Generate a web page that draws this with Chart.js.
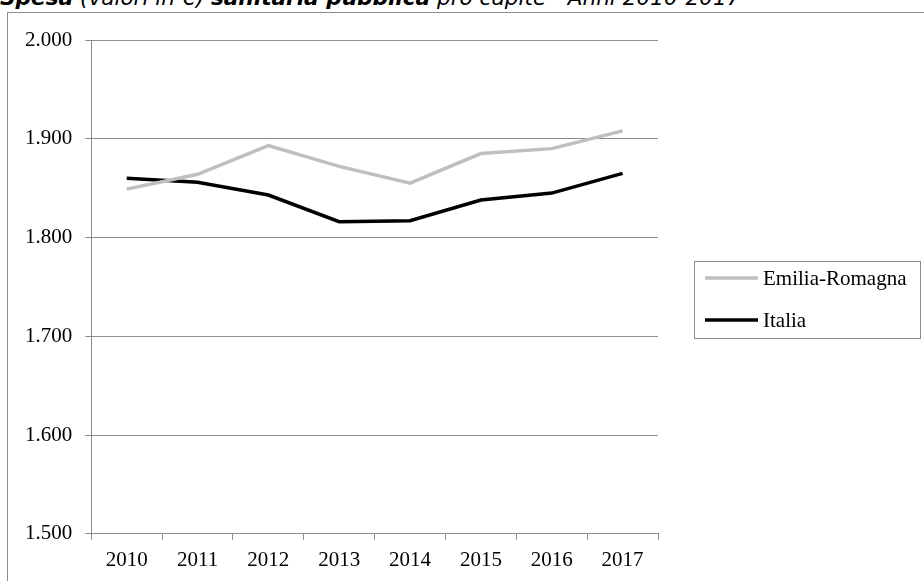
<!DOCTYPE html>
<html>
<head>
<meta charset="utf-8">
<script src="https://cdn.jsdelivr.net/npm/chart.js@4"></script>
<style>
	body { margin: 0; width: 924px; height: 581px; overflow: hidden; background: #fff; position: relative; }
	.title { position: absolute; left: 0; top: -13px; font: italic 21.6px/22px "DejaVu Sans", Verdana, sans-serif; color: #000; white-space: nowrap; }
	.title b { font-weight: bold; }
	.frame { position: absolute; left: 7px; top: 12px; width: 940px; height: 600px; border: 1px solid #8c8c8c; background: #fff; }
	.frame canvas { position: absolute; left: 0; top: 0; }
</style>
</head>
<body>
<div class="title"><b>Spesa</b> (valori in €) <b>sanitaria pubblica</b> pro capite - Anni 2010-2017</div>
<div class="frame"><canvas id="chart" width="916" height="569"></canvas></div>
<script>
// dati
const anni = ['2010', '2011', '2012', '2013', '2014', '2015', '2016', '2017']
const emilia_romagna = [1849, 1864, 1893, 1872, 1855, 1885, 1890, 1908]
const italia = [1860, 1856, 1843, 1816, 1817, 1838, 1845, 1865]
const y_min = 1500
const y_max = 2000
const y_step = 100

const serif = '"Liberation Serif", "Times New Roman", serif'
const grigio = '#8c8c8c'

// legenda con cornice, disegnata a mano
const box_legend = {
	id: 'box_legend',
	afterDraw(chart) {
		const ctx = chart.ctx
		const area = chart.chartArea
		const left = area.right + 36
		const top = area.top + 221
		const width = 226
		const height = 77
		ctx.save()
		ctx.strokeStyle = grigio
		ctx.lineWidth = 1
		ctx.strokeRect(left + 0.5, top + 0.5, width, height)
		chart.data.datasets.forEach((ds, i) => {
			const y = top + 17 + i * 42
			ctx.strokeStyle = ds.borderColor
			ctx.lineWidth = ds.borderWidth
			ctx.beginPath()
			ctx.moveTo(left + 11, y)
			ctx.lineTo(left + 64, y)
			ctx.stroke()
			ctx.fillStyle = '#000'
			ctx.font = '21px ' + serif
			ctx.textBaseline = 'middle'
			ctx.fillText(ds.label, left + 69, y + 1)
		})
		ctx.restore()
	}
}

function format_it(v) {
	return Math.floor(v / 1000) + '.' + String(v % 1000).padStart(3, '0')
}

new Chart(document.getElementById('chart'), {
	type: 'line',
	data: {
		labels: anni,
		datasets: [
			{
				label: 'Emilia-Romagna',
				data: emilia_romagna,
				borderColor: '#bfbfbf',
				borderWidth: 3.5,
				pointRadius: 0,
				tension: 0
			},
			{
				label: 'Italia',
				data: italia,
				borderColor: '#000000',
				borderWidth: 3.5,
				pointRadius: 0,
				tension: 0
			}
		]
	},
	options: {
		responsive: false,
		animation: false,
		layout: {
			padding: { left: 4, right: 266, top: 27, bottom: 1 }
		},
		plugins: {
			legend: { display: false },
			tooltip: { enabled: false },
			title: { display: false }
		},
		scales: {
			x: {
				offset: true,
				grid: {
					offset: true,
					drawOnChartArea: false,
					drawTicks: true,
					tickLength: 6,
					color: grigio
				},
				border: { display: true, color: grigio },
				ticks: {
					color: '#000',
					padding: 8,
					font: { family: serif, size: 21 }
				}
			},
			y: {
				min: y_min,
				max: y_max,
				grid: {
					color: grigio,
					drawTicks: true,
					tickLength: 6
				},
				border: { display: true, color: grigio },
				ticks: {
					stepSize: y_step,
					color: '#000',
					padding: 13,
					font: { family: serif, size: 21 },
					callback: (v) => format_it(v)
				}
			}
		}
	},
	plugins: [box_legend]
})
</script>
</body>
</html>
